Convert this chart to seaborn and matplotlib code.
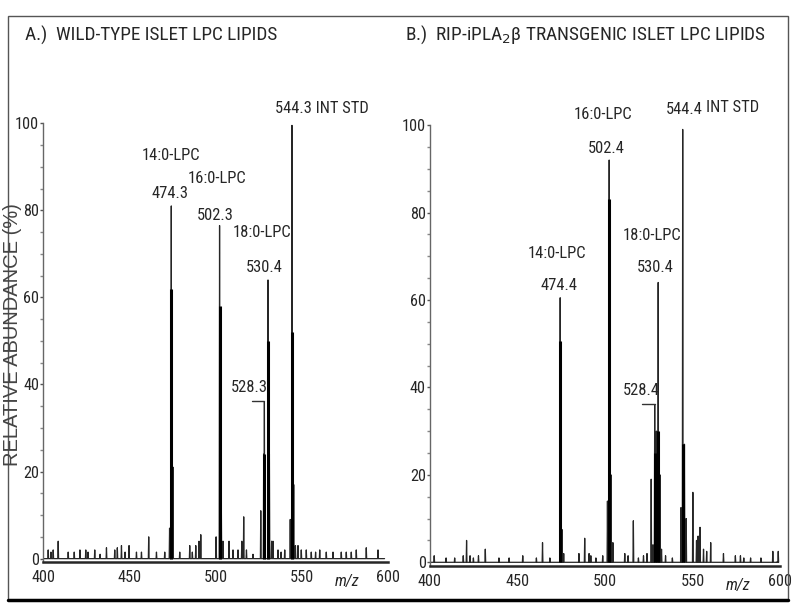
import matplotlib
matplotlib.use("Agg")
import pandas as pd
import matplotlib.pyplot as plt
from matplotlib import font_manager
from matplotlib.font_manager import FontProperties
from matplotlib.lines import Line2D
from matplotlib.patches import Rectangle
import seaborn as sns

# ---------------- data ----------------
# panel A : wild-type islets
a_mz = [402.9, 404.5, 405.8, 408.7, 414.5, 418.0, 421.3, 424.7, 426.0, 429.9,
        433.0, 436.7, 441.5, 443.0, 445.4, 447.5, 449.8, 454.1, 457.0, 461.2,
        465.7, 470.5, 473.3, 474.3, 475.3, 479.2, 485.0, 486.5, 488.5, 490.4,
        491.4, 500.3, 502.3, 503.3, 504.3, 507.8, 510.1, 513.0, 515.2, 516.3,
        517.9, 521.7, 526.2, 527.9, 528.3, 530.4, 531.2, 532.5, 533.3, 536.2,
        538.0, 540.1, 543.3, 544.3, 545.3, 546.3, 547.8, 549.7, 552.6, 555.5,
        558.0, 560.4, 564.2, 568.1, 572.9, 575.8, 578.7, 581.6, 587.4, 594.2]
a_int = [2, 1.5, 2, 4, 1.5, 1.5, 2, 2, 1.5, 2,
         1, 2.5, 2, 2.5, 3, 1.5, 3, 1.5, 1.5, 5,
         1.5, 1.5, 7, 81, 21, 1.5, 3, 1.5, 3, 4,
         5.5, 5, 76.5, 13.5, 4, 4, 2, 2, 4, 9.6,
         2, 1, 11, 24, 36, 64, 24, 4, 4, 2,
         1.5, 2, 9, 99.5, 17, 3, 3, 2, 2, 1.5,
         1.5, 2, 1.5, 1.5, 1.5, 1.5, 1.5, 2, 2.5, 2]
a_core_mz = [474.3, 502.3, 528.3, 530.4, 544.3]
a_core_int = [62, 58, 24, 50, 52]

# panel B : RIP-iPLA2beta transgenic islets
b_mz = [402.4, 409.2, 414.1, 419.0, 420.9, 422.9, 424.8, 427.7, 431.6, 439.4,
        445.2, 453.0, 460.8, 464.3, 468.5, 474.4, 475.4, 476.4, 485.1, 488.4,
        490.9, 491.9, 494.8, 498.7, 501.4, 502.4, 503.4, 504.5, 511.3, 513.2,
        516.2, 519.1, 522.0, 524.0, 526.4, 527.4, 528.4, 529.4, 530.4, 531.4,
        532.3, 534.6, 538.5, 543.4, 544.4, 545.4, 546.4, 550.2, 552.3, 553.2,
        554.3, 556.3, 558.1, 560.4, 567.7, 574.5, 577.4, 579.3, 583.2, 589.1,
        595.9, 599.0]
b_int = [1.5, 1, 1, 1.5, 5, 1.5, 1, 1.5, 3, 1,
         1, 1.5, 1, 4.5, 1, 60.5, 7.5, 2, 2, 5.5,
         2, 1.5, 1, 1.5, 14, 92, 20, 4.5, 2, 1.5,
         9.5, 1, 1.5, 2, 19, 4, 36, 30, 64, 20,
         3, 1.5, 1, 12.5, 99, 27, 10, 16, 5, 6,
         8, 3, 2.5, 4.5, 2, 1.5, 1.5, 1, 1, 1,
         2.5, 2.5]
b_core_mz = [474.4, 502.4, 528.4, 530.4, 544.4]
b_core_int = [50.5, 83, 25, 30, 27]

titles = ["A.)  WILD-TYPE ISLET LPC LIPIDS",
          "B.)  RIP-iPLA$_2$\u03b2 TRANSGENIC ISLET LPC LIPIDS"]

# peak annotations: text, x (m/z), y (% abundance)
a_labels = [("14:0-LPC", 474.4, 92.6), ("474.3", 473.8, 83.9),
            ("16:0-LPC", 500.6, 87.4), ("502.3", 500.0, 78.9),
            ("18:0-LPC", 526.7, 74.9), ("530.4", 528.5, 66.9),
            ("528.3", 519.8, 39.3)]
a_std = [("544.3 INT STD", 534.4, 103.4)]
b_labels = [("14:0-LPC", 472.3, 70.6), ("474.4", 474.0, 63.2),
            ("16:0-LPC", 498.9, 102.3), ("502.4", 500.7, 94.7),
            ("18:0-LPC", 526.8, 74.7), ("530.4", 528.5, 67.4),
            ("528.4", 520.7, 39.3)]
b_std = [("544.4", 534.6, 103.6), ("INT STD", 557.7, 104.0)]
bracket_peak = [528.3, 528.4]

# ---------------- style ----------------
sns.set_style("ticks")


def pick_narrow():
    # a condensed sans looks closest to the scanned figure lettering
    pref = ["Liberation Sans Narrow", "Roboto Condensed", "Open Sans Condensed",
            "Noto Sans Condensed", "DejaVu Sans Condensed", "Noto Sans", "DejaVu Sans",
            "Roboto", "Open Sans", "Lato", "Inter"]
    cands = []
    for f in font_manager.fontManager.ttflist:
        narrowish = ("Narrow" in f.name or "ondensed" in f.name
                     or str(f.stretch) in ("condensed", "semi-condensed"))
        if narrowish and f.style == "normal" and f.weight in (400, "normal", "regular"):
            rank = pref.index(f.name) if f.name in pref else len(pref)
            if str(f.stretch) == "semi-condensed":
                rank += 0.5
            cands.append((rank, f))
    if cands:
        cands.sort(key=lambda c: c[0])
        f = cands[0][1]
        return FontProperties(fname=f.fname), f.name
    return FontProperties(family="Liberation Sans"), "Liberation Sans"


fp_narrow, narrow_name = pick_narrow()
plt.rcParams["font.family"] = [narrow_name, "DejaVu Sans"]

fig = plt.figure(figsize=(8, 6.13), dpi=100)
renderer = fig.canvas.get_renderer()


def fit_size(s, width_px, fp=fp_narrow):
    p = fp.copy()
    p.set_size(20)
    t = fig.text(0, 0, s, fontproperties=p)
    w = t.get_window_extent(renderer=renderer).width
    t.remove()
    return 20 * width_px / w


def font(size, fp=fp_narrow):
    p = fp.copy()
    p.set_size(size)
    return p


tick_fs = fit_size("100", 24)
lab_fs = fit_size("14:0-LPC", 59)
title_fs = fit_size(titles[0], 254)
fp_ylab = FontProperties(family=["Liberation Sans", "DejaVu Sans"])
ylab_fs = 14.5
fp_ital = FontProperties(family=[narrow_name, "DejaVu Sans"], style="italic")

ax_a = fig.add_axes([0.054, 0.083, 0.431, 0.716])
ax_b = fig.add_axes([0.5375, 0.077, 0.4375, 0.719])


def profile(mz, inten, lo=400, hi=598, hw=0.22):
    rows = [(lo, 0.0)]
    for m, h in sorted(zip(mz, inten)):
        rows += [(m - hw, 0.0), (m, h), (m + hw, 0.0)]
    rows.append((hi, 0.0))
    return pd.DataFrame(rows, columns=["mz", "abund"])


def draw_panel(ax, mz, inten, core_mz, core_int):
    df = profile(mz, inten)
    sns.lineplot(data=df, x="mz", y="abund", sort=False, estimator=None,
                 color="#262626", lw=0.9, ax=ax)
    ax.vlines(core_mz, 0, core_int, color="black", lw=2.2)
    ax.set_xlim(400, 600)
    ax.set_ylim(-0.8, 100)
    ax.set_xticks([400, 450, 500, 550, 600])
    ax.set_yticks([0, 20, 40, 60, 80, 100])
    ax.set_yticks(range(0, 101, 5), minor=True)
    ax.tick_params(axis="x", length=0, pad=6)
    ax.tick_params(axis="y", which="major", length=2.5, width=1, pad=0.5, color="#555")
    ax.tick_params(axis="y", which="minor", length=2, width=1, color="#888")
    for lbl in ax.get_xticklabels() + ax.get_yticklabels():
        lbl.set_fontproperties(font(tick_fs))
    ax.set_xlabel("")
    ax.set_ylabel("")
    sns.despine(ax=ax)
    ax.spines["left"].set_color("#666")
    ax.spines["left"].set_linewidth(1.0)
    ax.spines["bottom"].set_linewidth(1.8)
    ax.text(576, -3.6, "m/z", fontproperties=font(tick_fs, fp_ital),
            ha="center", va="top")


draw_panel(ax_a, a_mz, a_int, a_core_mz, a_core_int)
draw_panel(ax_b, b_mz, b_int, b_core_mz, b_core_int)

for ax, labels, peak in [(ax_a, a_labels, bracket_peak[0]),
                         (ax_b, b_labels, bracket_peak[1])]:
    for txt, x, y in labels:
        ax.text(x, y, txt, ha="center", va="center", fontproperties=font(lab_fs))
    ax.add_line(Line2D([peak - 7, peak], [36.2, 36.2], color="#333", lw=1))

for ax, std in [(ax_a, a_std), (ax_b, b_std)]:
    for txt, x, y in std:
        ax.text(x, y, txt, ha="left", va="center", fontproperties=font(lab_fs))

fig.text(0.031, 0.943, titles[0], fontproperties=font(title_fs),
         ha="left", va="center")
fig.text(0.506, 0.943, titles[1], fontproperties=font(title_fs),
         ha="left", va="center")
fig.text(0.0155, 0.455, "RELATIVE ABUNDANCE (%)", rotation=90,
         fontproperties=font(ylab_fs, fp_ylab), color="#444",
         ha="center", va="center")

# frame around the whole figure
fig.patches.append(Rectangle((0.01, 1 - 600 / 613), 0.975, 584 / 613,
                             transform=fig.transFigure, fill=False,
                             edgecolor="#555", lw=1))
fig.lines.append(Line2D([0.01, 0.985], [1 - 600 / 613] * 2,
                        transform=fig.transFigure, color="black", lw=2.5))

fig.savefig("out.png", dpi=100)
